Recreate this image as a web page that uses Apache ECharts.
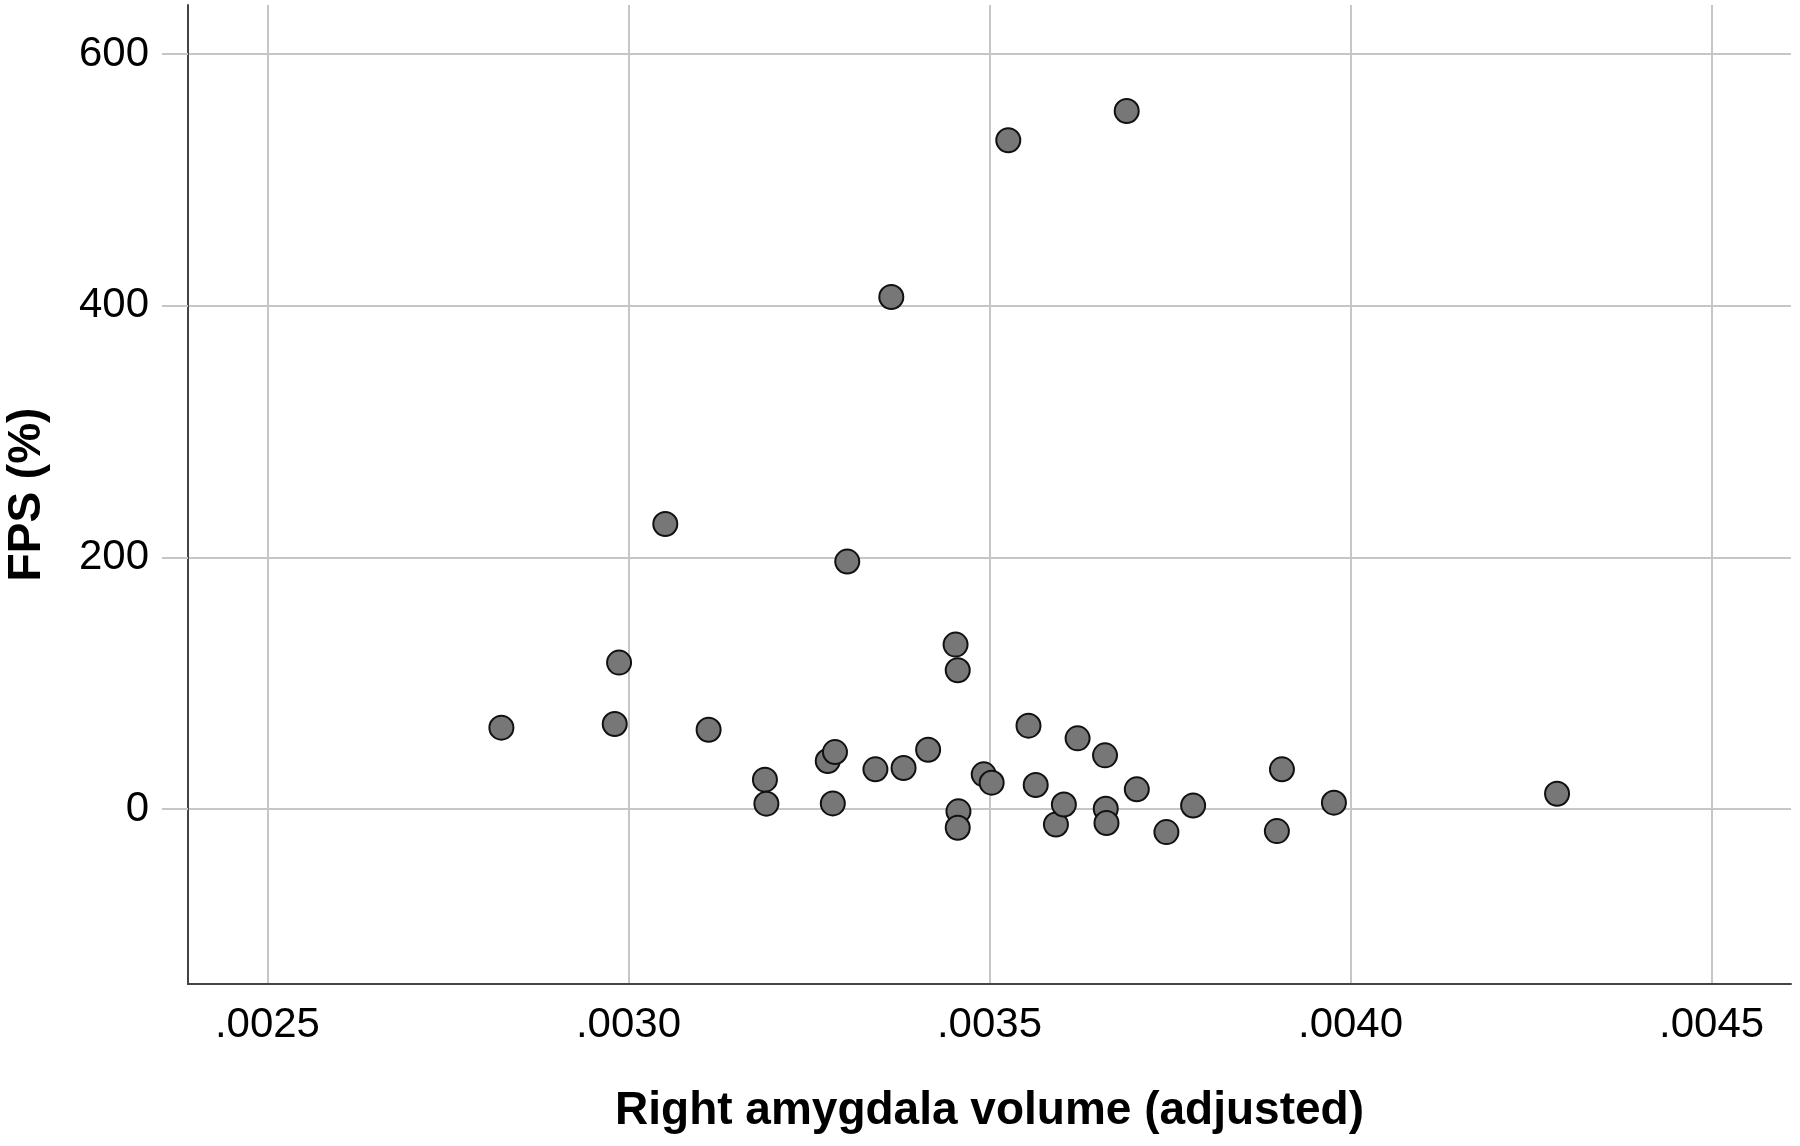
<!DOCTYPE html>
<html>
<head>
<meta charset="utf-8">
<script src="https://cdn.jsdelivr.net/npm/echarts@6/dist/echarts.min.js"></script>
<style>
  html, body { margin: 0; padding: 0; background: #fff; }
  #chart { width: 1800px; height: 1146px; }
</style>
</head>
<body>
<div id="chart"></div>
<script>
// right amygdala volume (adjusted), one per subject
const volume = [
  0.002824, 0.002981, 0.002987, 0.003051, 0.003111, 0.003189, 0.003191,
  0.003276, 0.003286, 0.003283, 0.003303, 0.003342, 0.003364, 0.003381,
  0.003415, 0.003453, 0.003456, 0.003457, 0.003456, 0.003492, 0.003503,
  0.003526, 0.003554, 0.003564, 0.003592, 0.003603, 0.003622, 0.003660,
  0.003661, 0.003662, 0.003690, 0.003704, 0.003745, 0.003782, 0.003898,
  0.003905, 0.003977, 0.004286
];
// FPS (%)
const fps = [
  64.7, 67.6, 116.4, 226.6, 63.1, 23.4, 4.3,
  38.2, 45.3, 4.5, 196.7, 31.6, 406.9, 32.6,
  47.2, 130.7, 110.3, -1.8, -14.8, 27.6, 21.0,
  531.5, 66.3, 19.1, -12.2, 3.7, 56.2, 42.7,
  0.3, -11.1, 554.8, 15.7, -18.3, 2.9, -17.5,
  31.6, 5.1, 12.2
];
const xTicks = [0.0025, 0.0030, 0.0035, 0.0040, 0.0045];
const yTicks = [0, 200, 400, 600];

const font = "'Liberation Sans', Arial, sans-serif";
const gridColor = "#c6c6c6";

var chartDom = document.getElementById("chart");
var myChart = echarts.init(chartDom);
var option;

option = {
  animation: false,
  backgroundColor: "#fff",
  grid: {
    left: 188,
    right: 9,
    top: 5,
    bottom: 162,
    containLabel: false,
    outerBoundsMode: "none",
  },
  xAxis: {
    type: "value",
    min: 0.00239,
    max: 0.00461,
    name: "Right amygdala volume (adjusted)",
    nameLocation: "middle",
    nameGap: 104,
    nameTextStyle: {
      fontFamily: font,
      fontSize: 46,
      fontWeight: "bold",
      color: "#000",
    },
    axisLine: {
      onZero: false,
      lineStyle: { color: "#444", width: 2 },
    },
    axisTick: {
      show: false,
      customValues: xTicks,
    },
    axisLabel: {
      customValues: xTicks,
      margin: 20,
      fontFamily: font,
      fontSize: 42,
      color: "#000",
      formatter: (v) => v.toFixed(4).replace(/^0/, ""),
    },
    splitLine: {
      show: true,
      lineStyle: { color: gridColor, width: 2 },
    },
  },
  yAxis: {
    type: "value",
    min: -139,
    max: 639,
    name: "FPS (%)",
    nameLocation: "middle",
    nameGap: 138,
    nameTextStyle: {
      fontFamily: font,
      fontSize: 46,
      fontWeight: "bold",
      color: "#000",
    },
    axisLine: {
      show: true,
      onZero: false,
      lineStyle: { color: "#444", width: 2 },
    },
    axisTick: {
      show: true,
      customValues: yTicks,
      length: 26,
      lineStyle: { color: gridColor, width: 2 },
    },
    axisLabel: {
      customValues: yTicks,
      margin: 39,
      fontFamily: font,
      fontSize: 42,
      color: "#000",
    },
    splitLine: {
      show: true,
      lineStyle: { color: gridColor, width: 2 },
    },
  },
  series: [
    {
      type: "scatter",
      data: volume.map((v, i) => [v, fps[i]]),
      symbol: "circle",
      symbolSize: 24,
      itemStyle: {
        color: "#777",
        borderColor: "#111",
        borderWidth: 2,
        opacity: 1,
      },
    },
  ],
};

option && myChart.setOption(option);
</script>
</body>
</html>
